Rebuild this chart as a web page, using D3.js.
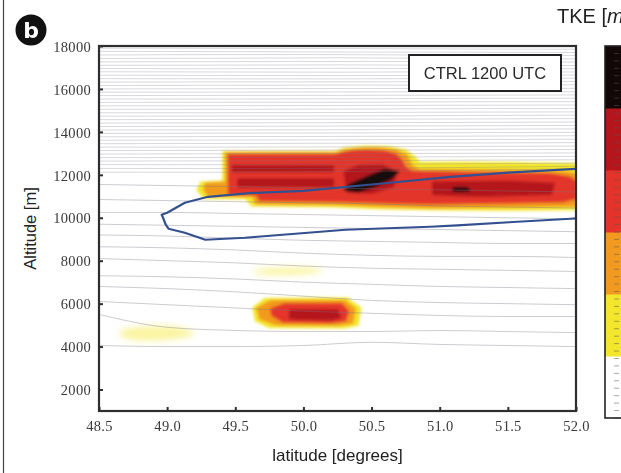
<!DOCTYPE html>
<html>
<head>
<meta charset="utf-8">
<script src="https://cdn.jsdelivr.net/npm/d3@7/dist/d3.min.js"></script>
<style>
  html, body { margin: 0; padding: 0; background: #fff; }
  svg { display: block; }
</style>
</head>
<body>
<svg id="chart" width="621" height="473"></svg>
<script>
// ---------- data ----------
const xTicks = [48.5, 49.0, 49.5, 50.0, 50.5, 51.0, 51.5, 52.0];
const yTicks = [2000, 4000, 6000, 8000, 10000, 12000, 14000, 16000, 18000];

// isentropes in the stratosphere: altitude [m] at these latitudes
const stratoLats = [48.5, 49.4, 50.25, 51.1, 52.0];
const stratoLines = [
  [17900, 17890, 17880, 17860, 17850], [17750, 17740, 17720, 17710, 17700],
  [17580, 17600, 17600, 17570, 17560], [17420, 17430, 17450, 17420, 17400],
  [17260, 17270, 17280, 17270, 17250], [17100, 17110, 17120, 17100, 17090],
  [16950, 16940, 16960, 16950, 16940], [16800, 16790, 16780, 16800, 16790],
  [16640, 16630, 16620, 16640, 16650], [16480, 16470, 16470, 16490, 16500],
  [16320, 16330, 16330, 16340, 16350], [16160, 16170, 16180, 16180, 16190],
  [16000, 16010, 16020, 16020, 16030], [15850, 15850, 15860, 15870, 15870],
  [15690, 15700, 15700, 15710, 15720], [15530, 15530, 15540, 15560, 15570],
  [15370, 15380, 15380, 15400, 15410], [15210, 15220, 15230, 15240, 15250],
  [15050, 15050, 15060, 15080, 15090], [14890, 14890, 14900, 14920, 14930],
  [14730, 14740, 14740, 14760, 14780], [14570, 14580, 14590, 14600, 14620],
  [14410, 14420, 14430, 14440, 14460], [14250, 14260, 14270, 14280, 14300],
  [14090, 14090, 14100, 14120, 14140], [13930, 13940, 13950, 13960, 13980],
  [13770, 13780, 13790, 13800, 13820], [13610, 13620, 13630, 13640, 13660],
  [13450, 13460, 13470, 13480, 13500], [13290, 13290, 13300, 13320, 13340],
  [13130, 13140, 13150, 13160, 13180], [12970, 12980, 12990, 13000, 13020],
  [12800, 12810, 12820, 12840, 12860], [12640, 12650, 12660, 12680, 12700],
  [12480, 12470, 12480, 12510, 12540], [12300, 12290, 12300, 12340, 12400],
  [12120, 12120, 12150, 12200, 12280]
];

// isentropes in the troposphere: altitude [m] at these latitudes
const tropoLats = [48.5, 49.0, 49.5, 50.0, 50.5, 51.0, 51.5, 52.0];
const tropoLines = [
  [11550, 11500, 11450, 11400, 11350, 11300, 11250, 11200],
  [10850, 10800, 10750, 10700, 10650, 10550, 10500, 10450],
  [10250, 10250, 10200, 10150, 10100, 10050, 10000, 9950],
  [9700, 9650, 9600, 9550, 9500, 9450, 9400, 9350],
  [9200, 9150, 9050, 8950, 8900, 8850, 8800, 8800],
  [8650, 8600, 8500, 8350, 8250, 8200, 8200, 8150],
  [8100, 8000, 7900, 7750, 7650, 7600, 7550, 7500],
  [7300, 7250, 7150, 7000, 6900, 6800, 6750, 6700],
  [6800, 6700, 6550, 6350, 6150, 6050, 6000, 5950],
  [6100, 5950, 5800, 5650, 5550, 5450, 5400, 5400],
  [5500, 4900, 4750, 4700, 4700, 4750, 4700, 4650],
  [4050, 4000, 4000, 4050, 4200, 4100, 4050, 4000]
];

// dynamic tropopause contour: [latitude, altitude]
const tropopause = [
  [52.0, 12280], [51.5, 12100], [51.08, 11907], [50.5, 11550], [50.0, 11250],
  [49.6, 11150], [49.30, 10977], [49.13, 10698], [49.0, 10233], [48.96, 10140],
  [48.97, 10000], [48.99, 9675], [49.01, 9489], [49.13, 9302], [49.28, 8977],
  [49.57, 9070], [49.94, 9256], [50.31, 9442], [50.93, 9582], [51.13, 9650],
  [51.57, 9814], [51.96, 9954], [52.0, 9970]
];

// TKE colour classes, lowest to highest
const tkeColors = ["#ffffff", "#f3e62c", "#f29a1f", "#e4342a", "#b4161b", "#120808"];

// TKE regions, each a closed outline of [latitude, altitude]
const tkeFaint = [
  [[49.63, 7520], [49.8, 7660], [50.1, 7620], [50.14, 7500], [49.95, 7360], [49.68, 7380]],
  [[48.65, 4650], [48.8, 4920], [49.1, 4880], [49.2, 4600], [49.05, 4340], [48.7, 4380]]
];
const tkeYellow = [
  [[49.25, 11650], [49.41, 11700], [49.41, 13080], [50.24, 13090], [50.3, 13230], [50.45, 13320],
   [50.62, 13300], [50.75, 13150], [50.82, 12800], [50.85, 12580], [51.5, 12560], [52.0, 12500],
   [52.0, 10380], [51.5, 10360], [50.95, 10380], [50.55, 10430], [50.2, 10520], [49.62, 10560],
   [49.58, 10900], [49.27, 10920], [49.22, 11300]],
  [[49.63, 5800], [49.72, 6230], [50.32, 6250], [50.42, 5800], [50.4, 5000], [50.3, 4880],
   [49.75, 4900], [49.65, 5200]]
];
const tkeOrange = [
  [[49.28, 11600], [49.43, 11650], [49.43, 13020], [50.25, 13030], [50.3, 13130], [50.4, 13220],
   [50.55, 13240], [50.68, 13150], [50.76, 12900], [50.8, 12400], [50.85, 12250], [51.5, 12200],
   [51.9, 12150], [52.0, 12050], [52.0, 10550], [51.5, 10500], [50.95, 10470], [50.6, 10520],
   [50.25, 10620], [49.65, 10650], [49.63, 11000], [49.3, 11020], [49.27, 11300]],
  [[49.66, 5800], [49.76, 6130], [50.3, 6140], [50.38, 5750], [50.36, 5100], [50.26, 5000],
   [49.8, 5020], [49.68, 5300]]
];
const tkeRed = [
  [[49.45, 11080], [49.45, 12950], [50.24, 12950], [50.28, 13030], [50.36, 13120], [50.48, 13150],
   [50.6, 13100], [50.68, 12950], [50.72, 12700], [50.75, 12350], [50.8, 12150], [51.2, 12100],
   [51.8, 12050], [51.95, 11900], [52.0, 11700], [52.0, 10900], [51.9, 10750], [51.5, 10700],
   [50.95, 10650], [50.7, 10680], [50.25, 10760], [49.68, 10800], [49.66, 11060]],
  [[49.76, 5750], [49.86, 5990], [50.28, 5990], [50.33, 5650], [50.31, 5200], [50.2, 5110],
   [49.85, 5150], [49.77, 5450]]
];
const tkeDarkRed = [
  [[49.48, 12420], [50.22, 12420], [50.22, 12160], [49.48, 12160]],
  [[49.52, 11800], [50.22, 11800], [50.22, 11450], [49.52, 11450]],
  [[50.3, 12150], [50.4, 12420], [50.58, 12450], [50.68, 12150], [50.66, 11450], [50.5, 11150],
   [50.32, 11200]],
  [[50.95, 11650], [51.5, 11700], [51.84, 11600], [51.82, 11100], [51.3, 11000], [50.95, 11080]],
  [[49.9, 5700], [50.25, 5700], [50.27, 5350], [50.2, 5250], [49.9, 5300]]
];
const tkeBlack = [
  [[50.3, 11300], [50.4, 11200], [50.52, 11450], [50.64, 11800], [50.7, 12150], [50.6, 12250],
   [50.48, 11950], [50.34, 11550]],
  [[51.1, 11400], [51.2, 11400], [51.22, 11250], [51.1, 11230]]
];

// ---------- layout ----------
const svg = d3.select("#chart");
const plot = { left: 99, right: 576, top: 46, bottom: 411 };
const x = d3.scaleLinear().domain([48.5, 52.0]).range([plot.left, plot.right]);
const y = d3.scaleLinear().domain([1000, 18000]).range([plot.bottom, plot.top]);

const defs = svg.append("defs");
defs.append("clipPath").attr("id", "plotClip")
  .append("rect")
  .attr("x", plot.left).attr("y", plot.top)
  .attr("width", plot.right - plot.left).attr("height", plot.bottom - plot.top);
defs.append("filter").attr("id", "soft")
  .attr("x", "-10%").attr("y", "-30%").attr("width", "120%").attr("height", "160%")
  .append("feGaussianBlur").attr("stdDeviation", 1.4);
defs.append("filter").attr("id", "softer")
  .attr("x", "-20%").attr("y", "-50%").attr("width", "140%").attr("height", "200%")
  .append("feGaussianBlur").attr("stdDeviation", 3);

// outer figure rule on the left
svg.append("line").attr("x1", 3.5).attr("x2", 3.5).attr("y1", 0).attr("y2", 473)
  .attr("stroke", "#444").attr("stroke-width", 1.2);

const inner = svg.append("g").attr("clip-path", "url(#plotClip)");

// TKE shading
const area = d3.line()
  .x(d => x(d[0])).y(d => y(d[1]))
  .curve(d3.curveLinearClosed);
const blob = d3.line()
  .x(d => x(d[0])).y(d => y(d[1]))
  .curve(d3.curveCatmullRomClosed.alpha(0.5));

inner.append("g").attr("filter", "url(#softer)")
  .selectAll("path").data(tkeFaint).join("path")
  .attr("d", blob).attr("fill", tkeColors[1]).attr("opacity", 0.45);

const tkeG = inner.append("g").attr("filter", "url(#soft)");
[[tkeYellow, 1], [tkeOrange, 2], [tkeRed, 3], [tkeDarkRed, 4], [tkeBlack, 5]].forEach(([polys, k]) => {
  tkeG.append("g").selectAll("path").data(polys).join("path")
    .attr("d", area).attr("fill", tkeColors[k])
    .attr("stroke", tkeColors[k]).attr("stroke-width", 1.5).attr("stroke-linejoin", "round");
});

// isentropes
const stratoLine = d3.line()
  .x((d, i) => x(stratoLats[i])).y(d => y(d))
  .curve(d3.curveMonotoneX);
const tropoLine = d3.line()
  .x((d, i) => x(tropoLats[i])).y(d => y(d))
  .curve(d3.curveMonotoneX);

inner.append("g").attr("fill", "none")
  .attr("stroke", "rgb(120,118,135)").attr("stroke-opacity", 0.32).attr("stroke-width", 0.9)
  .selectAll("path").data(stratoLines).join("path").attr("d", stratoLine);
inner.append("g").attr("fill", "none")
  .attr("stroke", "rgb(120,118,135)").attr("stroke-opacity", 0.38).attr("stroke-width", 1)
  .selectAll("path").data(tropoLines).join("path").attr("d", tropoLine);

// tropopause
inner.append("path")
  .datum(tropopause)
  .attr("d", d3.line().x(d => x(d[0])).y(d => y(d[1])).curve(d3.curveLinear))
  .attr("fill", "none").attr("stroke", "#34508f").attr("stroke-width", 2.2)
  .attr("stroke-linejoin", "round");

// frame
svg.append("rect")
  .attr("x", plot.left).attr("y", plot.top)
  .attr("width", plot.right - plot.left).attr("height", plot.bottom - plot.top)
  .attr("fill", "none").attr("stroke", "#2e2e2e").attr("stroke-width", 2.2);

// axes
const tickFont = "'Liberation Serif', 'DejaVu Serif', serif";
const yAxis = svg.append("g").attr("transform", `translate(${plot.left},0)`)
  .call(d3.axisLeft(y).tickValues(yTicks).tickSizeInner(-4).tickSizeOuter(0).tickPadding(8)
    .tickFormat(d3.format("d")));
const xAxis = svg.append("g").attr("transform", `translate(0,${plot.bottom})`)
  .call(d3.axisBottom(x).tickValues(xTicks).tickSizeInner(-4).tickSizeOuter(0).tickPadding(10)
    .tickFormat(d3.format(".1f")));
[yAxis, xAxis].forEach(g => {
  g.select(".domain").remove();
  g.selectAll(".tick line").attr("stroke", "#2e2e2e").attr("stroke-width", 2);
  g.selectAll(".tick text")
    .attr("font-family", tickFont).attr("font-size", 14.5)
    .attr("fill", "#3a3a3a").attr("letter-spacing", "0.3px");
});
yAxis.selectAll(".tick text").attr("dy", "0.36em");

// axis titles
svg.append("text")
  .attr("transform", `translate(36,${(plot.top + plot.bottom) / 2}) rotate(-90)`)
  .attr("text-anchor", "middle")
  .attr("font-family", "'Liberation Sans', Arial, sans-serif").attr("font-size", 16.5)
  .attr("fill", "#222").text("Altitude [m]");
svg.append("text")
  .attr("x", (plot.left + plot.right) / 2).attr("y", 461)
  .attr("text-anchor", "middle")
  .attr("font-family", "'Liberation Sans', Arial, sans-serif").attr("font-size", 17)
  .attr("fill", "#222").text("latitude [degrees]");

// run label
svg.append("rect").attr("x", 409).attr("y", 55).attr("width", 152).attr("height", 36)
  .attr("fill", "#fff").attr("stroke", "#222").attr("stroke-width", 2);
svg.append("text").attr("x", 485).attr("y", 79).attr("text-anchor", "middle")
  .attr("font-family", "'Liberation Sans', Arial, sans-serif").attr("font-size", 16.5)
  .attr("fill", "#2a2a2a").text("CTRL 1200 UTC");

// panel letter
svg.append("circle").attr("cx", 31).attr("cy", 30).attr("r", 15.5).attr("fill", "#111");
svg.append("text").attr("x", 31).attr("y", 38).attr("text-anchor", "middle")
  .attr("font-family", "'DejaVu Sans', sans-serif").attr("font-weight", "bold")
  .attr("font-size", 22).attr("fill", "#fff").text("b");

// colour bar
const cb = { left: 605, width: 40, top: 46, bottom: 418 };
const cbY = d3.scaleBand().domain(d3.range(tkeColors.length).reverse())
  .range([cb.top, cb.bottom]).paddingInner(0);
const cbG = svg.append("g");
cbG.selectAll("rect").data(d3.range(tkeColors.length)).join("rect")
  .attr("x", cb.left).attr("y", d => cbY(d))
  .attr("width", cb.width).attr("height", cbY.bandwidth() + 0.5)
  .attr("fill", d => tkeColors[d]);
const cbMinor = d3.scaleLinear().domain([0, 1]).range([cb.bottom, cb.top]);
cbG.selectAll("line").data(cbMinor.ticks(36)).join("line")
  .attr("x1", 614).attr("x2", 619)
  .attr("y1", d => cbMinor(d)).attr("y2", d => cbMinor(d))
  .attr("stroke", "#555").attr("stroke-opacity", 0.5).attr("stroke-width", 1);
cbG.append("rect").attr("x", cb.left).attr("y", cb.top)
  .attr("width", cb.width).attr("height", cb.bottom - cb.top)
  .attr("fill", "none").attr("stroke", "#222").attr("stroke-width", 1.6);

// colour bar title, running past the right edge of the figure
svg.append("text").attr("x", 557).attr("y", 23)
  .attr("font-family", "'Liberation Sans', Arial, sans-serif").attr("font-size", 20)
  .attr("fill", "#222")
  .html('TKE [<tspan font-style="italic">m</tspan><tspan dy="-7" font-size="12">2</tspan><tspan dy="7"> s</tspan><tspan dy="-7" font-size="12">-2</tspan><tspan dy="7">]</tspan>');
</script>
</body>
</html>
